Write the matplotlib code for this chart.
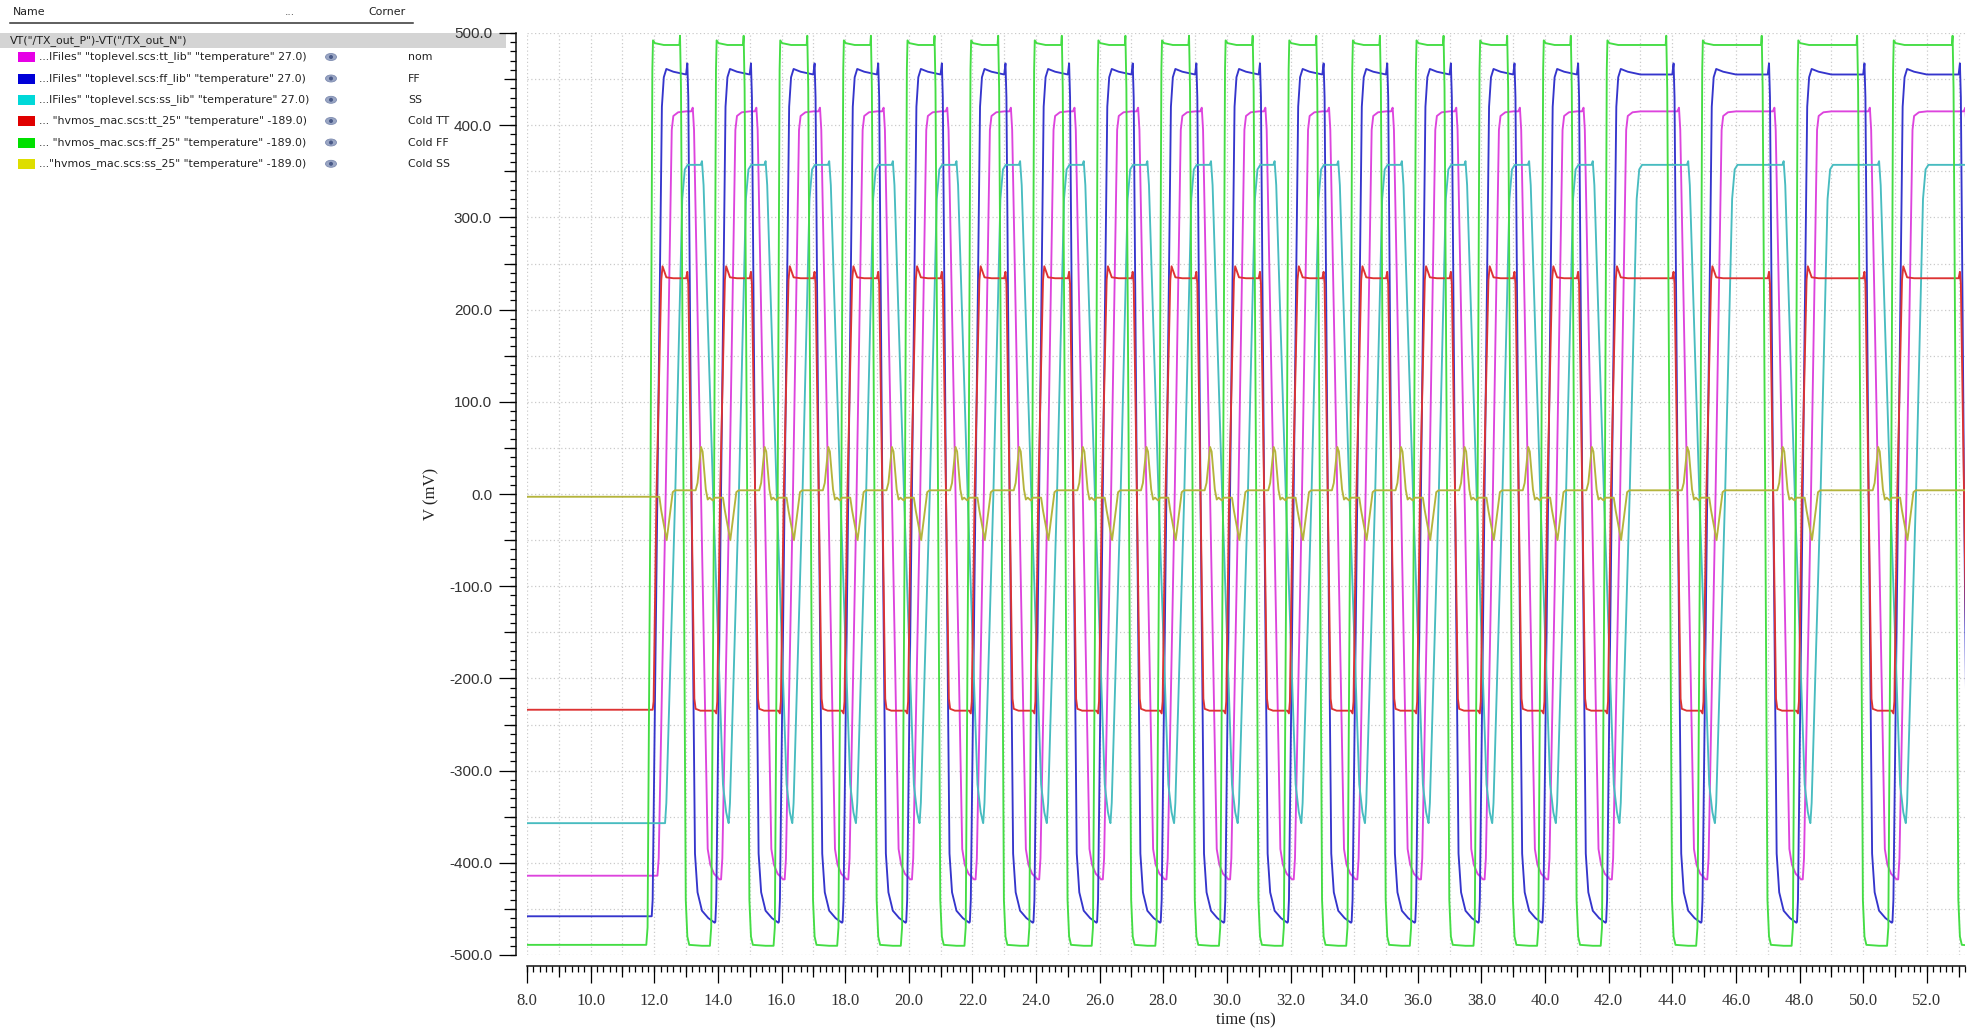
import matplotlib
matplotlib.use("Agg")
import matplotlib.pyplot as plt
from matplotlib.ticker import MultipleLocator, FormatStrFormatter, NullFormatter
from matplotlib.patches import Rectangle, Ellipse

# ==========================================
# DATA
# ==========================================
X_MIN, X_MAX = 8.0, 53.2
Y_MIN, Y_MAX = -500.0, 500.0

# bit stream driving the TX, 1 ns per bit, starting at 12 ns
T_START = 12.0
UI_NS = 1.0
BITS = "101010101010101010101010101010110110110110"

CORNERS = ["nom", "FF", "SS", "Cold TT", "Cold FF", "Cold SS"]
NAMES = [
    '...lFiles" "toplevel.scs:tt_lib" "temperature" 27.0)',
    '...lFiles" "toplevel.scs:ff_lib" "temperature" 27.0)',
    '...lFiles" "toplevel.scs:ss_lib" "temperature" 27.0)',
    '... "hvmos_mac.scs:tt_25" "temperature" -189.0)',
    '... "hvmos_mac.scs:ff_25" "temperature" -189.0)',
    '..."hvmos_mac.scs:ss_25" "temperature" -189.0)',
]
SWATCH_COLORS = ["#e600e6", "#0000d8", "#00d8d8", "#e00000", "#00e000", "#dede00"]
LINE_COLORS = ["#dd44dd", "#3535cc", "#48bcc0", "#dd3333", "#44dd44", "#b4b43c"]

# level before the first edge (mV)
INITIAL_MV = [-414, -458, -357, -234, -489, -3]

# edge shapes: (time after nominal edge in ns, mV)
NOM_RISE = [(0.10, -418), (0.14, -395), (0.36, 0), (0.55, 395), (0.60, 410), (0.75, 414), (1.00, 415)]
NOM_FALL = [(0.16, 415), (0.21, 419), (0.25, 395), (0.47, 0), (0.68, -385), (0.76, -402), (0.88, -412), (1.05, -418)]

FF_RISE = [(-0.08, -464), (-0.05, -440), (0.10, 0), (0.24, 420), (0.30, 452), (0.38, 461), (0.60, 458), (1.00, 455)]
FF_FALL = [(0.00, 455), (0.04, 467), (0.07, 430), (0.17, 0), (0.28, -390), (0.36, -432), (0.50, -452), (0.70, -460), (0.90, -465)]

SS_RISE = [(0.34, -357), (0.38, -335), (0.66, 0), (0.88, 320), (0.96, 352), (1.05, 357), (1.30, 357)]
SS_FALL = [(0.46, 357), (0.50, 361), (0.55, 335), (0.85, 0), (1.16, -315), (1.26, -345), (1.33, -356)]

CTT_RISE = [(-0.05, -238), (-0.02, -225), (0.07, 0), (0.22, 232), (0.26, 247), (0.30, 243), (0.38, 235), (0.60, 234)]
CTT_FALL = [(0.00, 234), (0.04, 241), (0.07, 228), (0.17, 0), (0.26, -222), (0.30, -233), (0.45, -235), (0.90, -235)]

CFF_RISE = [(-0.25, -490), (-0.21, -470), (-0.12, 0), (-0.06, 460), (-0.04, 492), (0.02, 489), (0.30, 487)]
CFF_FALL = [(-0.21, 487), (-0.19, 497), (-0.16, 440), (-0.08, 0), (-0.01, -440), (0.04, -480), (0.10, -489), (0.50, -490)]

CSS_RISE = [(0.16, -4), (0.22, -18), (0.39, -50), (0.48, -25), (0.58, 2), (0.65, 4), (1.00, 4)]
CSS_FALL = [(0.30, 4), (0.36, 12), (0.47, 51), (0.52, 46), (0.62, 5), (0.68, -6), (0.74, -4), (0.84, -7), (0.90, -4)]

RISE_SHAPES = [NOM_RISE, FF_RISE, SS_RISE, CTT_RISE, CFF_RISE, CSS_RISE]
FALL_SHAPES = [NOM_FALL, FF_FALL, SS_FALL, CTT_FALL, CFF_FALL, CSS_FALL]

W, H = 1975, 1029


def edge_list(bits):
    """Nominal edge times from the bit stream."""
    edges = []
    prev = "0"
    for i, b in enumerate(bits):
        if b != prev:
            edges.append((T_START + i * UI_NS, b == "1"))
        prev = b
    return edges


def build_wave(init, rise, fall, edges):
    """Chain the edge shapes at each edge time."""
    t, v = [X_MIN], [init]
    for k, (T, up) in enumerate(edges):
        shape = rise if up else fall
        pts = [(T + dt, mv) for dt, mv in shape]
        if k == 0:
            t.append(pts[0][0])
            v.append(init)
            pts = pts[1:]
        if k + 1 < len(edges):
            nT, nup = edges[k + 1]
            cut = nT + (rise if nup else fall)[0][0]
            pts = [p for p in pts if p[0] < cut]
        for a, b in pts:
            t.append(a)
            v.append(b)
    return t, v


def px(x, y):
    return x / W, 1 - y / H


fig = plt.figure(figsize=(W / 100, H / 100), dpi=100)
ax = fig.add_axes([527 / W, 1 - 955 / H, (1965 - 527) / W, (955 - 33) / H])

edges = edge_list(BITS)
for i in range(len(CORNERS)):
    t, v = build_wave(INITIAL_MV[i], RISE_SHAPES[i], FALL_SHAPES[i], edges)
    ax.plot(t, v, color=LINE_COLORS[i], lw=1.35, zorder=3 + i)

ax.set_xlim(X_MIN, X_MAX)
ax.set_ylim(Y_MIN, Y_MAX)

# axes styling like the waveform viewer
for side in ["top", "right"]:
    ax.spines[side].set_visible(False)
off = 11 * 0.72
ax.spines["left"].set_position(("outward", off))
ax.spines["bottom"].set_position(("outward", off))
for side in ["left", "bottom"]:
    ax.spines[side].set_linewidth(1.1)
    ax.spines[side].set_color("#111111")

ax.xaxis.set_major_locator(MultipleLocator(2))
ax.xaxis.set_minor_locator(MultipleLocator(1))
ax.yaxis.set_major_locator(MultipleLocator(100))
ax.yaxis.set_minor_locator(MultipleLocator(50))
ax.xaxis.set_major_formatter(FormatStrFormatter("%.1f"))
ax.yaxis.set_major_formatter(FormatStrFormatter("%.1f"))

ax.tick_params(axis="x", which="major", direction="out", length=17 * 0.72, width=0.9,
               pad=7, labelsize=12, labelcolor="#333333", labelfontfamily="Liberation Serif")
ax.tick_params(axis="x", which="minor", direction="out", length=11 * 0.72, width=0.9)
ax.tick_params(axis="y", which="major", direction="out", length=17 * 0.72, width=0.9,
               pad=5, labelsize=11, labelcolor="#333333", labelfontfamily="Liberation Sans")
ax.tick_params(axis="y", which="minor", direction="out", length=12 * 0.72, width=0.9)

ax.grid(which="both", color="#cacaca", linestyle=(0, (1, 2)), linewidth=0.9, zorder=0)

# fine ticks (0.2 ns, 10 mV)
sx = ax.secondary_xaxis(-11 / 922)
sx.xaxis.set_major_locator(MultipleLocator(0.2))
sx.xaxis.set_major_formatter(NullFormatter())
sx.tick_params(direction="out", length=6 * 0.72, width=0.9)
for s in sx.spines.values():
    s.set_visible(False)
sy = ax.secondary_yaxis(-11 / 1438)
sy.yaxis.set_major_locator(MultipleLocator(10))
sy.yaxis.set_major_formatter(NullFormatter())
sy.tick_params(direction="out", length=6 * 0.72, width=0.9)
for s in sy.spines.values():
    s.set_visible(False)

ax.set_xlabel("time (ns)", fontfamily="Liberation Serif", fontsize=12, color="#222222")
ax.xaxis.set_label_coords(0.5, -0.062)
ax.set_ylabel("V (mV)", fontfamily="Liberation Serif", fontsize=12, color="#222222")
ax.yaxis.set_label_coords(-0.061, 0.5)

# ==========================================
# left side list (Name / ... / Corner)
# ==========================================
fs = 7.9
fig.text(*px(13, 12), "Name", fontsize=fs, va="center", ha="left", color="#222222")
fig.text(*px(290, 12), "...", fontsize=fs, va="center", ha="center", color="#555555")
fig.text(*px(368, 12), "Corner", fontsize=fs, va="center", ha="left", color="#222222")
fig.add_artist(plt.Line2D([10 / W, 413 / W], [1 - 22.5 / H, 1 - 22.5 / H],
                          transform=fig.transFigure, color="#333333", lw=1.1))
fig.add_artist(Rectangle(px(0, 48), 506 / W, 15 / H, transform=fig.transFigure,
                         facecolor="#d4d4d4", edgecolor="none", zorder=0))
fig.text(*px(10, 41), 'VT("/TX_out_P")-VT("/TX_out_N")', fontsize=fs, va="center",
         ha="left", color="#222222")

ROW_Y = [57, 78.5, 99.8, 121, 142.5, 163.8]
for i in range(len(CORNERS)):
    y = ROW_Y[i]
    fig.add_artist(Rectangle(px(18, y + 5), 17 / W, 10 / H, transform=fig.transFigure,
                             facecolor=SWATCH_COLORS[i], edgecolor="none"))
    fig.text(*px(39, y), NAMES[i], fontsize=fs, va="center", ha="left", color="#222222")
    fig.add_artist(Ellipse(px(331, y), 11 / W, 7 / H, transform=fig.transFigure,
                           facecolor="#9aa6c4", edgecolor="#7d8bb0", lw=0.6))
    fig.add_artist(Ellipse(px(331, y), 4 / W, 4 / H, transform=fig.transFigure,
                           facecolor="#4a5a88", edgecolor="none"))
    fig.text(*px(408, y), CORNERS[i], fontsize=fs, va="center", ha="left", color="#222222")

fig.savefig("out.png", dpi=100)
